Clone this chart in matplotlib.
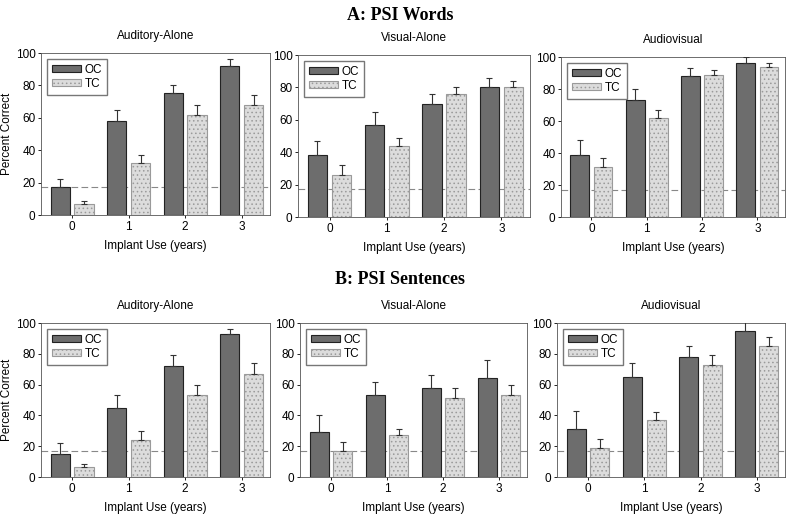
import matplotlib
matplotlib.use("Agg")
import matplotlib.pyplot as plt
import numpy as np

plt.rcParams["font.family"] = ["Liberation Sans", "DejaVu Sans"]
plt.rcParams["hatch.color"] = "#a8a8a8"
plt.rcParams["hatch.linewidth"] = 0.6

years = [0, 1, 2, 3]
conditions = ["Auditory-Alone", "Visual-Alone", "Audiovisual"]
chance = 17

# PSI Words
words_oc = [[17, 58, 75, 92], [38, 57, 70, 80], [39, 73, 88, 96]]
words_oc_err = [[5, 7, 5, 4], [9, 8, 6, 6], [9, 7, 5, 4]]
words_tc = [[6.5, 32, 62, 68], [26, 44, 76, 80], [31, 62, 89, 94]]
words_tc_err = [[2, 5, 6, 6], [6, 5, 4, 4], [6, 5, 3, 2]]

# PSI Sentences
sent_oc = [[15, 45, 72, 93], [29, 53, 58, 64], [31, 65, 78, 95]]
sent_oc_err = [[7, 8, 7, 3], [11, 9, 8, 12], [12, 9, 7, 6]]
sent_tc = [[6.5, 24, 53, 67], [17, 27, 51, 53], [19, 37, 73, 85]]
sent_tc_err = [[2, 6, 7, 7], [6, 4, 7, 7], [6, 5, 6, 6]]

W, H = 800, 515
fig = plt.figure(figsize=(W / 100, H / 100), dpi=100)

# axes boxes in pixels: (left, top, right, bottom)
top_boxes = [(41, 53, 270, 215), (298, 55, 530, 217), (561, 57, 785, 217)]
bot_boxes = [(41, 323, 270, 477), (300, 323, 527, 477), (557, 323, 785, 477)]


def draw_panel(box, oc, oc_err, tc, tc_err, title, ylabel):
    l, t, r, b = box
    ax = fig.add_axes([l / W, 1 - b / H, (r - l) / W, (b - t) / H])
    x = np.array(years)
    w = 0.34
    ax.bar(x - 0.21, oc, w, color="#6d6d6d", edgecolor="#222222", linewidth=0.8,
           label="OC", zorder=2)
    ax.bar(x + 0.21, tc, w, color="#dcdcdc", edgecolor="#9a9a9a", linewidth=0.8,
           hatch="....", label="TC", zorder=2)
    ax.errorbar(x - 0.21, oc, yerr=[np.zeros(4), oc_err], fmt="none", ecolor="#333333",
                elinewidth=0.8, capsize=2, capthick=0.8, zorder=3)
    ax.errorbar(x + 0.21, tc, yerr=[np.zeros(4), tc_err], fmt="none", ecolor="#333333",
                elinewidth=0.8, capsize=2, capthick=0.8, zorder=3)
    ax.axhline(chance, color="#888888", linestyle=(0, (6, 3)), linewidth=0.8, zorder=1)
    ax.set_xlim(-0.55, 3.5)
    ax.set_ylim(0, 100)
    ax.set_xticks(years)
    ax.set_yticks(range(0, 101, 20))
    ax.tick_params(labelsize=8.5, length=2, width=0.6, pad=2)
    for s in ax.spines.values():
        s.set_linewidth(0.6)
        s.set_color("#555555")
    ax.set_title(title, fontsize=8.5, pad=10)
    ax.set_xlabel("Implant Use (years)", fontsize=8.5, labelpad=5)
    if ylabel:
        ax.set_ylabel("Percent Correct", fontsize=8.5, labelpad=2)
    ax.legend(loc="upper left", fontsize=8.5, frameon=True, fancybox=False,
              edgecolor="#555555", handlelength=2.5, handleheight=0.5,
              borderpad=0.4, labelspacing=0.2, handletextpad=0.3)
    return ax


for i in range(3):
    draw_panel(top_boxes[i], words_oc[i], words_oc_err[i], words_tc[i], words_tc_err[i],
               conditions[i], i == 0)
    draw_panel(bot_boxes[i], sent_oc[i], sent_oc_err[i], sent_tc[i], sent_tc_err[i],
               conditions[i], i == 0)

fig.text(0.5, 1 - 15 / H, "A: PSI Words", ha="center", va="center", fontsize=13,
         fontweight="bold", family="Liberation Serif")
fig.text(0.5, 1 - 279 / H, "B: PSI Sentences", ha="center", va="center", fontsize=13,
         fontweight="bold", family="Liberation Serif")

fig.savefig("out.png", dpi=100)
